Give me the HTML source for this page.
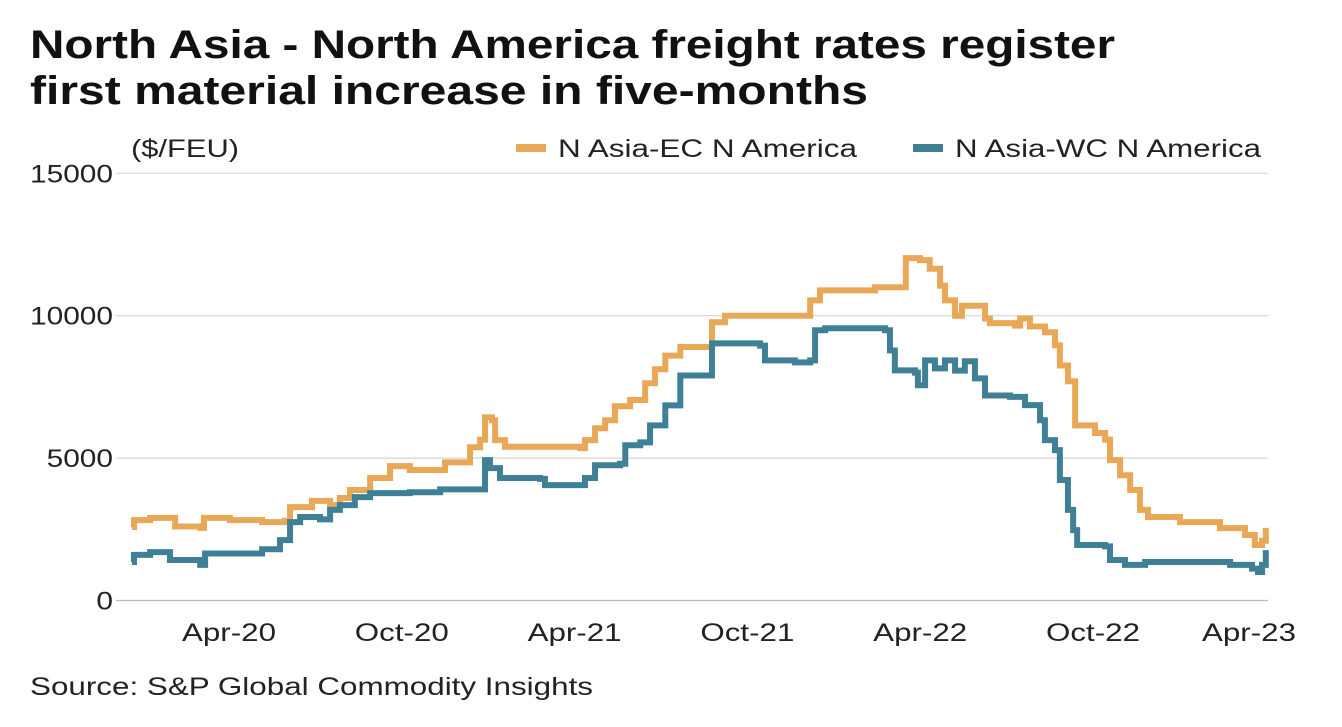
<!DOCTYPE html>
<html><head><meta charset="utf-8"><style>
body{margin:0;background:#fff;font-family:"Liberation Sans",sans-serif;}
svg text{font-family:"Liberation Sans",sans-serif;}
</style></head><body>
<svg width="1342" height="722" xmlns="http://www.w3.org/2000/svg">
<text x="30" y="58" font-size="40" font-weight="bold" fill="#111" textLength="1085" lengthAdjust="spacingAndGlyphs">North Asia - North America freight rates register</text>
<text x="30" y="104" font-size="40" font-weight="bold" fill="#111" textLength="838" lengthAdjust="spacingAndGlyphs">first material increase in five-months</text>
<text x="131" y="157" font-size="25" fill="#222" textLength="108" lengthAdjust="spacingAndGlyphs">($/FEU)</text>
<rect x="516" y="144" width="30" height="8" fill="#e8a857"/>
<text x="558" y="157" font-size="25" fill="#222" textLength="299" lengthAdjust="spacingAndGlyphs">N Asia-EC N America</text>
<rect x="913" y="144" width="30" height="8" fill="#3f8097"/>
<text x="955" y="157" font-size="25" fill="#222" textLength="306" lengthAdjust="spacingAndGlyphs">N Asia-WC N America</text>
<g id="grid"></g><g id="ylab"></g><g id="xlab"></g><g id="lines"></g>
<text x="30" y="695" font-size="25" fill="#222" textLength="563" lengthAdjust="spacingAndGlyphs">Source: S&amp;P Global Commodity Insights</text>
</svg>
<script>
const yTicks=[0,5000,10000,15000];
const xTickLabels=["Apr-20","Oct-20","Apr-21","Oct-21","Apr-22","Oct-22","Apr-23"];
const xTickMonths=[3,9,15,21,27,33,39];
const ecMonths=[-0.37,-0.3,0.26,1.13,2.0,2.13,3.03,4.15,4.94,5.12,5.88,6.51,6.85,7.2,7.9,8.59,9.28,10.33,10.5,11.2,11.37,11.72,11.89,12.13,12.24,12.58,15.19,15.36,15.71,16.06,16.4,16.93,17.45,17.79,18.15,18.67,19.7,19.77,20.22,23.0,23.18,23.52,25.43,26.47,26.5,26.99,27.33,27.69,27.86,28.21,28.45,28.9,29.25,29.42,30.29,30.47,30.81,31.33,31.68,31.85,32.13,32.38,33.07,33.42,33.59,33.94,34.29,34.63,34.91,36.02,37.41,38.28,38.62,38.87,39.0];
const ecValues=[2580,2820,2900,2600,2550,2900,2820,2750,2800,3280,3500,3350,3600,3880,4300,4720,4580,4580,4850,4850,5380,5650,6430,6330,5630,5400,5350,5630,6050,6330,6820,7040,7630,8120,8600,8900,8900,9770,10000,10000,10540,10890,11000,11000,12020,11950,11650,11050,10540,10000,10350,10350,9900,9740,9650,9900,9620,9420,8960,8250,7700,6150,5880,5650,4930,4400,3880,3180,2930,2750,2540,2300,1950,2100,2550];
const wcMonths=[-0.37,-0.3,0.26,0.95,2.0,2.17,3.38,4.15,4.77,5.12,5.47,6.16,6.51,6.85,7.37,7.9,9.28,10.33,11.72,11.89,12.06,12.41,13.8,13.97,15.19,15.36,15.71,16.58,16.76,17.28,17.62,18.15,18.67,19.7,19.77,21.44,21.61,22.65,23.18,23.35,23.7,25.78,25.95,26.12,26.82,26.92,27.17,27.51,27.86,28.21,28.55,28.9,29.25,30.12,30.64,31.16,31.33,31.68,31.85,32.13,32.31,32.45,33.42,33.59,34.11,34.81,36.37,37.76,38.52,38.73,38.87,39.0];
const wcValues=[1350,1600,1700,1420,1250,1650,1650,1800,2120,2750,2930,2850,3180,3350,3630,3770,3800,3900,3900,4930,4650,4300,4270,4050,4050,4300,4750,4800,5450,5550,6150,6850,7900,7900,9030,8950,8430,8360,8430,9490,9560,9490,8780,8080,8000,7560,8430,8150,8430,8070,8400,7800,7200,7150,6860,6330,5630,5280,4230,3180,2470,1950,1900,1420,1250,1350,1350,1250,1120,1000,1250,1770];
const NS="http://www.w3.org/2000/svg";
const X=m=>142.6+m*28.8, Y=v=>600.5-v*(427.2/15000);
const mk=(t,a,p)=>{const e=document.createElementNS(NS,t);for(const k in a)e.setAttribute(k,a[k]);document.getElementById(p).appendChild(e);return e;};
yTicks.forEach(v=>{
 const l=mk('line',{x1:116,x2:1268,y1:Y(v),y2:Y(v),stroke:v===0?'#bbb':'#d6d6d6','stroke-width':1.2},'grid');
 
 
 const s=String(v);
 const t=mk('text',{x:113,y:Y(v)+9,'text-anchor':'end','font-size':25,fill:'#222',textLength:s.length*16.6,lengthAdjust:'spacingAndGlyphs'},'ylab');
 t.textContent=s;
 
 
});
xTickLabels.forEach((s,i)=>{
 const cx=Math.min(X(xTickMonths[i]),1249);
 const t=mk('text',{x:cx,y:641,'text-anchor':'middle','font-size':25,fill:'#222',textLength:94,lengthAdjust:'spacingAndGlyphs'},'xlab');
 t.textContent=s;
 
 
});
function line(ms,vs,c,n){
 let pts=[];
 ms.forEach((m,i)=>{
  if(i>0)pts.push(X(m)+','+Y(vs[i-1]));
  pts.push(X(m)+','+Y(vs[i]));
 });
 const p=mk('polyline',{points:pts.join(' '),fill:'none',stroke:c,'stroke-width':6,'stroke-linejoin':'miter'},'lines');
 
 
}
line(ecMonths,ecValues,'#e8a857','series-ec-line');
line(wcMonths,wcValues,'#3f8097','series-wc-line');
</script>
</body></html>
